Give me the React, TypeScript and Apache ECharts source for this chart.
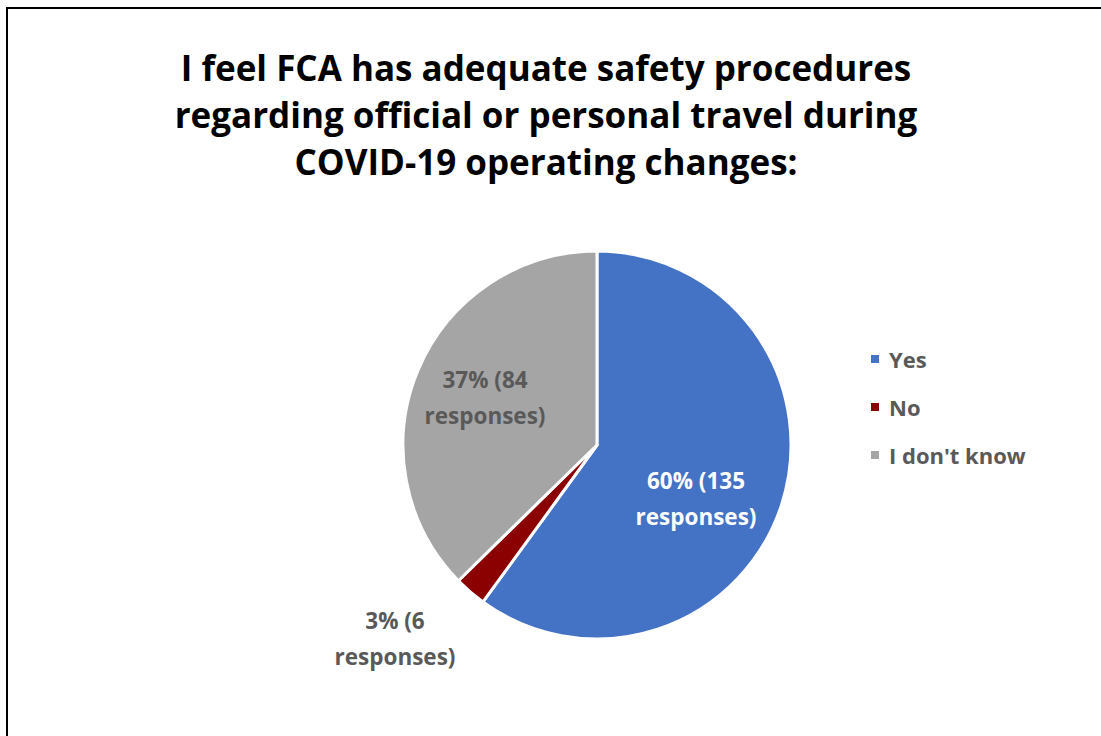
import React, { useEffect, useRef } from "react";
import * as echarts from "echarts";

const categories = ["Yes", "No", "I don't know"];
const values = [135, 6, 84];
const labels = ["60% (135\nresponses)", "3% (6\nresponses)", "37% (84\nresponses)"];
const colors = ["#4472C4", "#8B0000", "#A5A5A5"];
const titleText =
  "I feel FCA has adequate safety procedures\nregarding official or personal travel during\nCOVID-19 operating changes:";

const FONT = "'Open Sans', 'Noto Sans', sans-serif";
const CX = 597;
const CY = 445;
const R = 194;
// label offsets relative to the pie centre
const labelOffsets = [
  [99, 53],
  [-202, 193],
  [-112, -48],
];

export default function App() {
  const ref = useRef<HTMLDivElement>(null);
  useEffect(() => {
    if (!ref.current) return;
    const chart = echarts.init(ref.current, null, { renderer: "svg" });
    chart.setOption({
      animation: false,
      backgroundColor: "#ffffff",
      graphic: [
        {
          type: "rect",
          shape: { x: 7, y: 8, width: 1300, height: 900 },
          style: { fill: "none", stroke: "#000", lineWidth: 2 },
          silent: true,
        },
        {
          type: "text",
          x: 546,
          y: 44,
          style: {
            text: titleText,
            fontFamily: FONT,
            fontSize: 35,
            fontWeight: "bold",
            lineHeight: 47,
            fill: "#000",
            align: "center",
          },
        },
      ],
      legend: {
        orient: "vertical",
        left: 869,
        top: 347,
        padding: 0,
        icon: "rect",
        itemWidth: 10,
        itemHeight: 10,
        itemGap: 24,
        data: categories,
        textStyle: {
          fontFamily: FONT,
          fontSize: 22,
          fontWeight: "bold",
          color: "#595959",
          lineHeight: 24,
          padding: [0, 0, 0, 4],
        },
      },
      series: [
        {
          type: "pie",
          center: [CX, CY],
          radius: R,
          startAngle: 90,
          clockwise: true,
          avoidLabelOverlap: false,
          itemStyle: { borderColor: "#fff", borderWidth: 3 },
          label: {
            show: true,
            position: "inside",
            fontFamily: FONT,
            fontSize: 22.5,
            fontWeight: "bold",
            lineHeight: 36,
            align: "center",
            formatter: (p: any) => labels[p.dataIndex],
          },
          labelLine: { show: false },
          labelLayout: (p: any) => {
            const o = labelOffsets[p.dataIndex];
            return { x: CX + o[0], y: CY + o[1], align: "center", verticalAlign: "middle" };
          },
          data: categories.map((c, i) => ({
            name: c,
            value: values[i],
            itemStyle: { color: colors[i] },
            label: { color: i === 0 ? "#ffffff" : "#595959" },
          })),
        },
      ],
    });
    return () => chart.dispose();
  }, []);
  return (
    <div
      ref={ref}
      style={{ position: "fixed", left: 0, top: 0, width: 1101, height: 736 }}
    />
  );
}
